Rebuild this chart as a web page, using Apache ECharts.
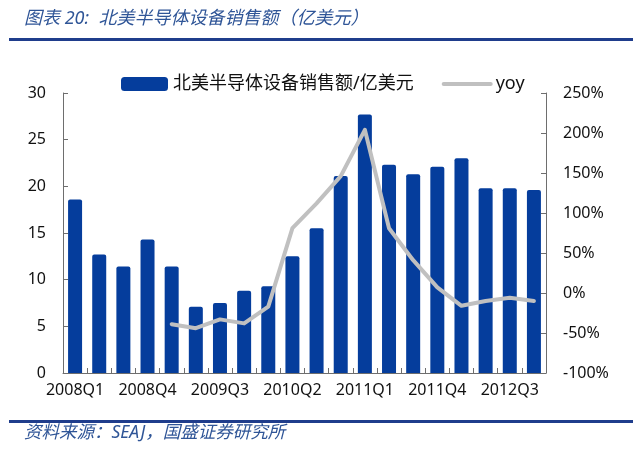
<!DOCTYPE html>
<html>
<head>
<meta charset="utf-8">
<script src="https://cdn.jsdelivr.net/npm/echarts@6/dist/echarts.min.js"></script>
<style>
html,body{margin:0;padding:0;background:#fff;}
#c{width:640px;height:461px;}
</style>
</head>
<body>
<div id="c"></div>
<script>
var categories = ['2008Q1','2008Q2','2008Q3','2008Q4','2009Q1','2009Q2','2009Q3','2009Q4',
  '2010Q1','2010Q2','2010Q3','2010Q4','2011Q1','2011Q2','2011Q3','2011Q4',
  '2012Q1','2012Q2','2012Q3','2012Q4'];
var sales = [18.6, 12.7, 11.4, 14.3, 11.4, 7.1, 7.5, 8.8, 9.3, 12.5, 15.5, 21.1,
  27.7, 22.3, 21.3, 22.1, 23.0, 19.8, 19.8, 19.6];
var yoy = [null, null, null, null, -39, -44, -33, -38, -17, 81, 112, 146,
  204, 81, 41, 7, -16, -10, -6, -10];
var salesName = '北美半导体设备销售额/亿美元';
var yoyName = 'yoy';
var titleText = '图表 20:  北美半导体设备销售额（亿美元）';
var sourceText = '资料来源：SEAJ，国盛证券研究所';

var FONT = '"Noto Sans", "Noto Sans CJK SC", sans-serif';
var chart = echarts.init(document.getElementById('c'), null, {renderer: 'canvas'});
var axisColor = '#6e6e6e';
chart.setOption({
  animation: false,
  backgroundColor: '#fff',
  textStyle: {fontFamily: FONT},
  graphic: [
    {type: 'text', left: 24, top: 10, style: {text: titleText, fontSize: 18, fontStyle: 'italic', fontFamily: FONT, fill: '#2f5597'}},
    {type: 'rect', shape: {x: 9, y: 38, width: 624, height: 3}, style: {fill: '#1f3d8c'}},
    {type: 'rect', shape: {x: 9, y: 420, width: 624, height: 3}, style: {fill: '#1f3d8c'}},
    {type: 'text', left: 24, top: 424, style: {text: sourceText, fontSize: 17.5, fontStyle: 'italic', fontFamily: FONT, fill: '#2f5597'}}
  ],
  legend: {
    left: 116, top: 70,
    itemWidth: 47, itemHeight: 14, itemGap: 28,
    textStyle: {fontSize: 18, color: '#111', fontFamily: FONT},
    data: [
      {name: salesName, icon: 'roundRect'},
      {name: yoyName, itemStyle: {opacity: 0}, lineStyle: {width: 4, color: '#c0c0c0', cap: 'round'}}
    ]
  },
  grid: {left: 63, right: 94, top: 93, bottom: 88, containLabel: false},
  xAxis: {
    type: 'category',
    data: categories,
    boundaryGap: true,
    axisLine: {lineStyle: {color: axisColor, width: 1}},
    axisTick: {show: true, inside: true, length: 5, interval: 0, lineStyle: {color: axisColor}},
    axisLabel: {interval: 2, fontSize: 16, color: '#111', margin: 9, fontFamily: FONT}
  },
  yAxis: [
    {
      type: 'value', min: 0, max: 30, interval: 5,
      axisLine: {show: true, lineStyle: {color: axisColor}},
      axisTick: {show: true, inside: true, length: 5, lineStyle: {color: axisColor}},
      splitLine: {show: false},
      axisLabel: {fontSize: 16, color: '#111', margin: 17, fontFamily: FONT}
    },
    {
      type: 'value', min: -100, max: 250, interval: 50,
      position: 'right',
      axisLine: {show: true, lineStyle: {color: axisColor}},
      axisTick: {show: true, inside: true, length: 5, lineStyle: {color: axisColor}},
      splitLine: {show: false},
      axisLabel: {fontSize: 16, color: '#111', margin: 17, formatter: '{value}%', fontFamily: FONT}
    }
  ],
  series: [
    {
      name: salesName, type: 'bar', data: sales, yAxisIndex: 0,
      barWidth: 14,
      itemStyle: {color: '#053d9c', borderRadius: [2, 2, 0, 0]}
    },
    {
      name: yoyName, type: 'line', data: yoy, yAxisIndex: 1,
      showSymbol: false, symbol: 'none',
      connectNulls: false,
      lineStyle: {color: '#c0c0c0', width: 4, join: 'round', cap: 'round'},
      itemStyle: {color: '#c0c0c0'}
    }
  ]
});
</script>
</body>
</html>
